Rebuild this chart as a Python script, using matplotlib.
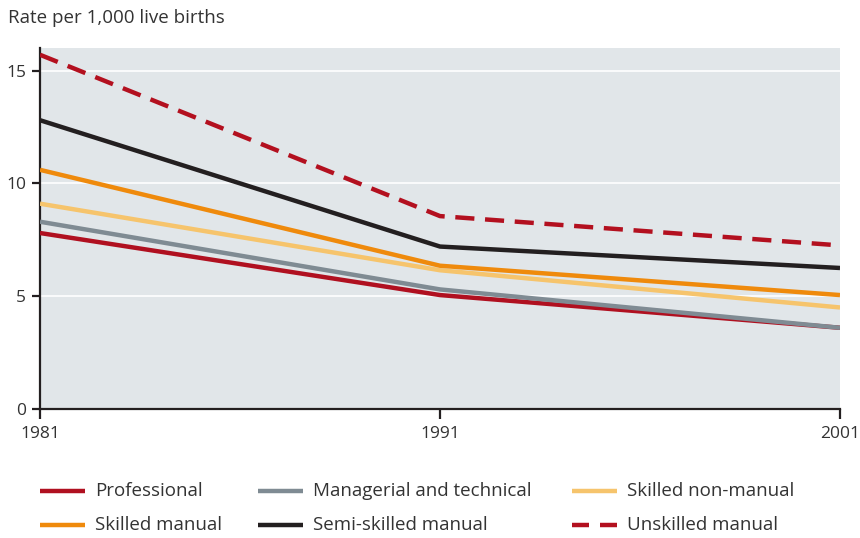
import matplotlib
matplotlib.use("Agg")
import matplotlib.pyplot as plt
from matplotlib.lines import Line2D

plt.rcParams['font.family'] = ['Open Sans', 'DejaVu Sans']

years = [1981, 1991, 2001]
series_names = ["Professional", "Managerial and technical", "Skilled non-manual",
                "Skilled manual", "Semi-skilled manual", "Unskilled manual"]
professional = [7.8, 5.05, 3.6]
managerial = [8.3, 5.3, 3.6]
skilled_nonmanual = [9.1, 6.15, 4.5]
skilled_manual = [10.6, 6.35, 5.05]
semi_skilled = [12.8, 7.2, 6.25]
unskilled = [15.7, 8.55, 7.25]
yticks = [0, 5, 10, 15]

colors = ["#b01020", "#7f8b93", "#f6c46c", "#ef8a0c", "#231f20", "#b3101f"]
values = [professional, managerial, skilled_nonmanual, skilled_manual, semi_skilled, unskilled]
styles = ["-", "-", "-", "-", "-", (0, (4.3, 2.4))]

W, H = 860, 538
fig = plt.figure(figsize=(8.6, 5.38), dpi=100)
ax = fig.add_axes([40/W, 1-409/H, 800/W, (409-48)/H])
ax.set_facecolor("#e1e6e9")
for y in [5, 10, 15]:
    ax.axhline(y, color="white", lw=1.2, zorder=1)

for name, vals, c, ls in zip(series_names, values, colors, styles):
    ax.plot(years, vals, color=c, lw=3.2, linestyle=ls, zorder=3,
            solid_capstyle="butt", dash_capstyle="butt")

ax.set_xlim(1981, 2001)
ax.set_ylim(0, 16)
ax.set_xticks(years)
ax.set_xticklabels([str(y) for y in years])
ax.set_yticks(yticks)
ax.set_yticklabels([str(v) for v in yticks])
for s in ["top", "right"]:
    ax.spines[s].set_visible(False)
for s in ["left", "bottom"]:
    ax.spines[s].set_color("#231f20")
    ax.spines[s].set_linewidth(1.6)
ax.tick_params(axis="y", direction="out", length=6, width=1.6, color="#231f20",
               labelsize=12.5, labelcolor="#333333", pad=4)
ax.tick_params(axis="x", direction="out", length=7, width=1.6, color="#231f20",
               labelsize=12.5, labelcolor="#333333", pad=5)

fig.text(8/W, 1-18/H, "Rate per 1,000 live births", fontsize=13.5, color="#333333",
         va="center", ha="left")

# manual legend
col_x = [40, 258, 572]
row_y = [491, 525]
layout = [("Professional", 0, 0), ("Managerial and technical", 1, 0),
          ("Skilled non-manual", 2, 0), ("Skilled manual", 0, 1),
          ("Semi-skilled manual", 1, 1), ("Unskilled manual", 2, 1)]
cmap = dict(zip(series_names, zip(colors, styles)))
for name, ci, ri in layout:
    c, ls = cmap[name]
    x0 = col_x[ci]
    y = 1 - row_y[ri]/H
    if ls == "-":
        fig.add_artist(Line2D([x0/W, (x0+45)/W], [y, y], color=c, lw=3.2,
                              solid_capstyle="butt", transform=fig.transFigure))
    else:
        for a, b in [(x0, x0+17), (x0+28, x0+45)]:
            fig.add_artist(Line2D([a/W, b/W], [y, y], color=c, lw=3.2,
                                  solid_capstyle="butt", transform=fig.transFigure))
    fig.text((x0+55)/W, y, name, fontsize=13.5, color="#333333", va="center", ha="left")

fig.savefig("out.png", dpi=100)
